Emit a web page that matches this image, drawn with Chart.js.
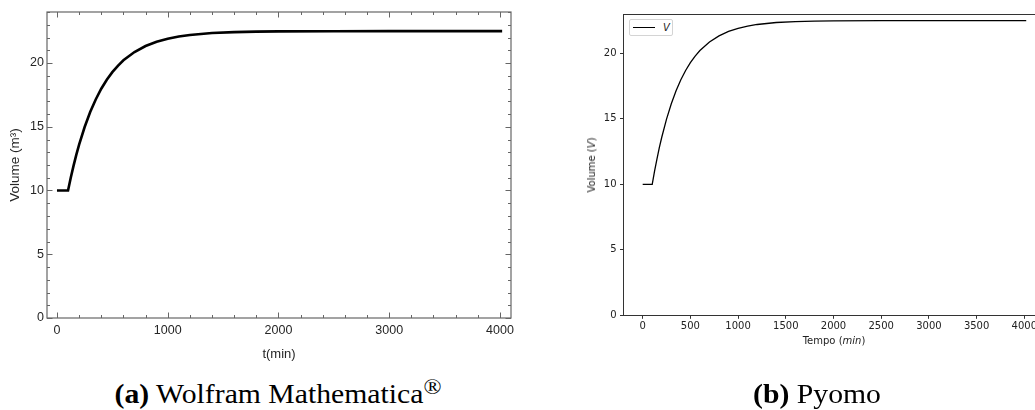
<!DOCTYPE html>
<html>
<head>
<meta charset="utf-8">
<script src="https://cdn.jsdelivr.net/npm/chart.js@4.4.1/dist/chart.umd.min.js"></script>
<style>
  html, body { margin: 0; padding: 0; background: #fff; }
  body { width: 1035px; height: 410px; position: relative; overflow: hidden; }
  #wrapA { position: absolute; left: 0; top: 0; width: 560px; height: 370px; }
  #wrapB { position: absolute; left: 570px; top: 0; width: 480px; height: 370px; }
  .cap { position: absolute; top: 380px; transform: translateX(-50%) scaleX(1.1); font-family: "Liberation Serif", "Times New Roman", serif;
         font-size: 27px; line-height: 29px; color: #000; white-space: nowrap; }
  .cap sup { font-size: 0.8em; line-height: 0; vertical-align: 0.42em; }
  .axt { position: absolute; font-family: "DejaVu Sans", sans-serif; font-size: 10px; color: #222; white-space: nowrap; line-height: 12px; }
  #ytB { left: 592px; top: 165px; transform: translate(-50%, -50%) rotate(-90deg); }
  #xtB { left: 834px; top: 341px; transform: translate(-50%, -50%); }
  #legB { position: absolute; left: 629px; top: 19px; width: 44px; height: 17px; border: 1px solid #d4d4d4; border-radius: 2px;
          background: #fff; box-sizing: border-box; }
  #legB .ln { position: absolute; left: 3px; top: 7px; width: 22px; height: 0; border-top: 1.5px solid #000; }
  #legB .lb { position: absolute; left: 33px; top: 1px; font-family: "DejaVu Sans", sans-serif; font-style: italic; font-size: 10px;
              line-height: 13px; color: #222; }
</style>
</head>
<body>
<div id="wrapA"><canvas id="chartA" width="560" height="370"></canvas></div>
<div id="wrapB"><canvas id="chartB" width="480" height="370"></canvas></div>
<div class="axt" id="ytB">Volume (<i>V</i>)</div>
<div class="axt" id="xtB">Tempo (<i>min</i>)</div>
<div id="legB"><span class="ln"></span><span class="lb">V</span></div>
<div class="cap" style="left:278px"><b>(a)</b> Wolfram Mathematica<sup>®</sup></div>
<div class="cap" style="left:817px"><b>(b)</b> Pyomo</div>

<script>
// valeurs : temps (min) et volume (m³)
const tempo = [0, 100, 125, 150, 175, 200, 250, 300, 350, 400, 450, 500, 550, 600, 700, 800,
               900, 1000, 1100, 1200, 1400, 1600, 1800, 2000, 2500, 3000, 3500, 4020];
const volume = [10, 10, 11.02, 11.95, 12.81, 13.59, 14.98, 16.15, 17.14, 17.98, 18.69, 19.28, 19.78, 20.21, 20.86, 21.33,
                21.67, 21.91, 22.08, 22.2, 22.35, 22.42, 22.46, 22.48, 22.49, 22.5, 22.5, 22.5];

// graduations
const xTicksA = [0, 1000, 2000, 3000, 4000];
const yTicksA = [0, 5, 10, 15, 20];
const xTicksB = [0, 500, 1000, 1500, 2000, 2500, 3000, 3500, 4000];
const yTicksB = [0, 5, 10, 15, 20];

const points = tempo.map((t, i) => ({ x: t, y: volume[i] }));
const plain = v => String(v);

// cadre style Mathematica : ticks vers l'interieur sur les 4 cotes
const frameMathematica = {
    id: 'frameMathematica',
    afterDraw(chart) {
        const { ctx, chartArea: a, scales } = chart;
        const sx = scales.x, sy = scales.y;
        ctx.save();
        ctx.strokeStyle = '#666';
        ctx.lineWidth = 1.2;
        ctx.strokeRect(a.left, a.top, a.right - a.left, a.bottom - a.top);
        ctx.lineWidth = 1;
        ctx.beginPath();
        for (let v = 0; v <= 4000; v += 200) {
            const px = Math.round(sx.getPixelForValue(v)) + 0.5;
            const len = v % 1000 === 0 ? 5.5 : 3;
            ctx.moveTo(px, a.bottom); ctx.lineTo(px, a.bottom - len);
            ctx.moveTo(px, a.top); ctx.lineTo(px, a.top + len);
        }
        for (let v = 0; v <= 24; v += 1) {
            const py = Math.round(sy.getPixelForValue(v)) + 0.5;
            const len = v % 5 === 0 ? 5.5 : 3;
            ctx.moveTo(a.left, py); ctx.lineTo(a.left + len, py);
            ctx.moveTo(a.right, py); ctx.lineTo(a.right - len, py);
        }
        ctx.stroke();
        ctx.restore();
    }
};

// spines haut/droite pour le style matplotlib
const frameMatplotlib = {
    id: 'frameMatplotlib',
    afterDraw(chart) {
        const { ctx, chartArea: a } = chart;
        ctx.save();
        ctx.strokeStyle = '#333';
        ctx.lineWidth = 1;
        ctx.beginPath();
        ctx.moveTo(a.left, a.top + 0.5); ctx.lineTo(a.right, a.top + 0.5);
        ctx.moveTo(a.right - 0.5, a.top); ctx.lineTo(a.right - 0.5, a.bottom);
        ctx.stroke();
        ctx.restore();
    }
};

new Chart(document.getElementById('chartA'), {
    type: 'line',
    data: {
        datasets: [{
            data: points,
            borderColor: '#000',
            borderWidth: 2.6,
            pointRadius: 0,
            tension: 0,
            fill: false
        }]
    },
    options: {
        responsive: false,
        animation: false,
        layout: { padding: { top: 12, right: 49, left: 0, bottom: 0 } },
        plugins: { legend: { display: false }, tooltip: { enabled: false } },
        scales: {
            x: {
                type: 'linear', min: -90, max: 4100,
                afterBuildTicks: s => { s.ticks = xTicksA.map(v => ({ value: v })); },
                afterFit: s => { s.height = 52; },
                grid: { display: false, drawTicks: false },
                border: { display: false },
                ticks: { padding: 5, color: '#262626', callback: plain, font: { family: 'Liberation Sans', size: 12.5 }, maxRotation: 0 },
                title: { display: true, text: 't(min)', color: '#262626', font: { family: 'Liberation Sans', size: 13 }, padding: { top: 0, bottom: 8 } }
            },
            y: {
                type: 'linear', min: 0, max: 24,
                afterBuildTicks: s => { s.ticks = yTicksA.map(v => ({ value: v })); },
                afterFit: s => { s.width = 47; },
                grid: { display: false, drawTicks: false },
                border: { display: false },
                ticks: { padding: 3, color: '#262626', callback: plain, font: { family: 'Liberation Sans', size: 12.5 } },
                title: { display: true, text: 'Volume (m³)', color: '#262626', font: { family: 'Liberation Sans', size: 13.5 }, padding: { top: 7, bottom: 0 } }
            }
        }
    },
    plugins: [frameMathematica]
});

new Chart(document.getElementById('chartB'), {
    type: 'line',
    data: {
        datasets: [{
            label: 'V',
            data: points,
            borderColor: '#000',
            borderWidth: 1.3,
            pointRadius: 0,
            tension: 0,
            fill: false
        }]
    },
    options: {
        responsive: false,
        animation: false,
        layout: { padding: { top: 14, right: 4.6, left: 0, bottom: 0 } },
        plugins: { legend: { display: false }, tooltip: { enabled: false } },
        scales: {
            x: {
                type: 'linear', min: -201, max: 4221,
                afterBuildTicks: s => { s.ticks = xTicksB.map(v => ({ value: v })); },
                afterFit: s => { s.height = 54.7; },
                grid: { display: true, drawOnChartArea: false, drawTicks: true, tickLength: 3.5, color: '#333', lineWidth: 1 },
                border: { display: true, color: '#333', width: 1 },
                ticks: { padding: 2, color: '#222', callback: plain, font: { family: 'DejaVu Sans', size: 10 }, maxRotation: 0 }
            },
            y: {
                type: 'linear', min: 0, max: 23,
                afterBuildTicks: s => { s.ticks = yTicksB.map(v => ({ value: v })); },
                afterFit: s => { s.width = 53.5; },
                grid: { display: true, drawOnChartArea: false, drawTicks: true, tickLength: 3.5, color: '#333', lineWidth: 1 },
                border: { display: true, color: '#333', width: 1 },
                ticks: { padding: 3.5, color: '#222', callback: plain, font: { family: 'DejaVu Sans', size: 10 } }
            }
        }
    },
    plugins: [frameMatplotlib]
});
</script>
</body>
</html>
